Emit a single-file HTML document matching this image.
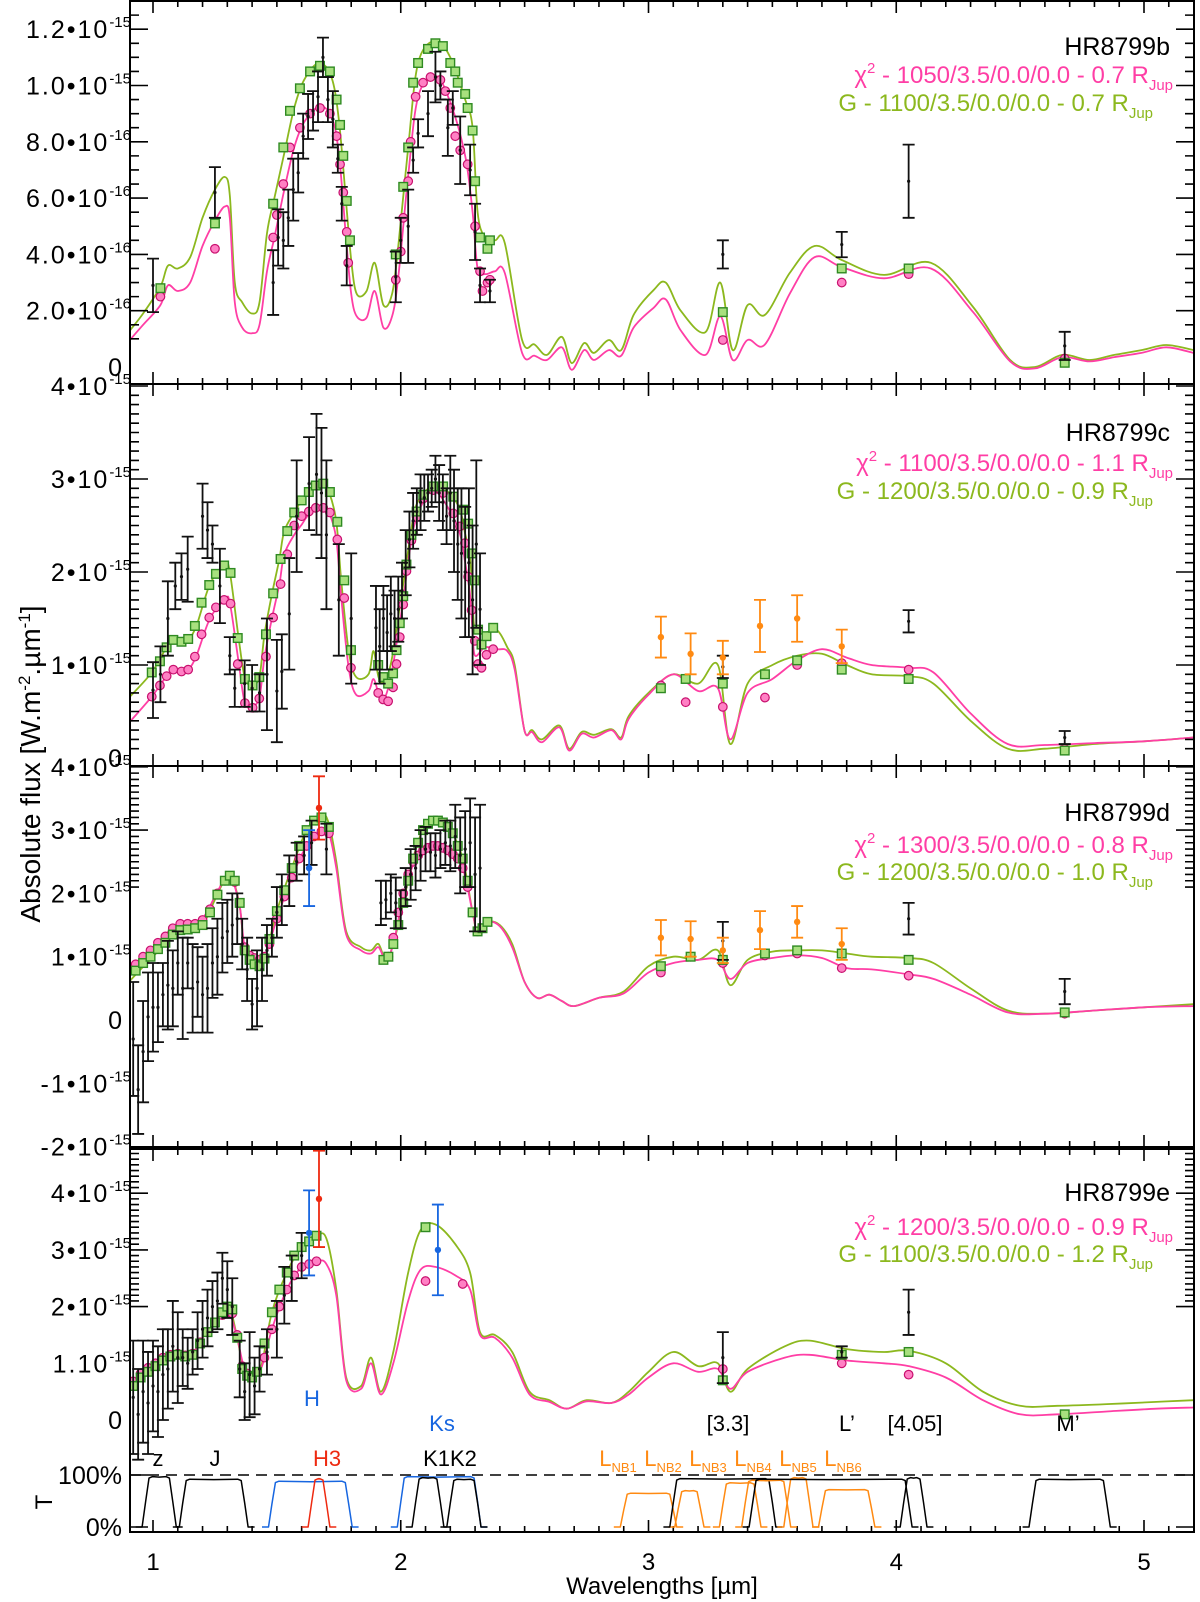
<!DOCTYPE html>
<html><head><meta charset="utf-8"><title>HR8799 spectra</title>
<style>
html,body{margin:0;padding:0;background:#fff}
svg{display:block;font-family:"Liberation Sans",Arial,sans-serif}
</style></head>
<body>
<svg id="chart" xmlns="http://www.w3.org/2000/svg" width="1200" height="1602" viewBox="0 0 1200 1602">
<rect x="0" y="0" width="1200" height="1602" fill="#fff"/>
<defs id="defs"></defs>
<g id="layer"></g>
<text transform="translate(40,764) rotate(-90)" text-anchor="middle" font-size="28">Absolute flux [W.m<tspan dy="-10" font-size="17">-2</tspan><tspan dy="10">.µm</tspan><tspan dy="-10" font-size="17">-1</tspan><tspan dy="10">]</tspan></text>
<text transform="translate(52,1502) rotate(-90)" text-anchor="middle" font-size="24">T</text>
<text x="662" y="1594" text-anchor="middle" font-size="24">Wavelengths [µm]</text>
</svg>
<script>
// ---------------- DATA ----------------
// Panel 1 (HR8799b), units 1e-16
const p1Lam=[0.907,0.96,1.03,1.06,1.1,1.15,1.2,1.25,1.29,1.31,1.33,1.36,1.4,1.43,1.46,1.49,1.53,1.57,1.61,1.67,1.72,1.75,1.78,1.80,1.822,1.862,1.895,1.93,1.965,1.99,2.03,2.07,2.14,2.2,2.26,2.29,2.31,2.34,2.38,2.42,2.49,2.54,2.59,2.65,2.69,2.74,2.78,2.84,2.89,2.94,3.02,3.07,3.13,3.23,3.29,3.34,3.4,3.47,3.57,3.67,3.78,3.95,4.14,4.31,4.46,4.56,4.67,4.78,4.88,4.99,5.09,5.2];
const p1Green=[1.3,1.9,2.85,3.6,3.5,3.9,5.3,6.3,6.75,6.1,3.0,2.3,1.9,2.3,4.75,6.0,7.6,9.2,10.2,10.8,10.3,8.8,5.8,3.8,2.6,2.7,3.7,2.2,2.6,4.3,7.8,10.8,11.6,11.0,9.5,8.5,5.5,4.6,4.5,4.4,0.96,0.8,0.43,1.07,0.14,0.85,0.5,0.96,0.6,1.85,2.73,3.0,2.0,1.24,3.0,0.6,2.2,1.85,3.34,4.3,3.8,3.27,3.7,2.13,0.25,0.0,0.43,0.25,0.43,0.6,0.78,0.6];
const p1Pink=[0.96,1.5,2.2,2.9,2.7,3.0,4.3,5.2,5.7,5.3,2.3,1.4,1.2,1.5,3.4,4.6,6.3,7.8,8.7,9.25,8.9,7.6,4.5,2.6,1.8,1.75,2.7,1.4,1.8,3.2,6.8,9.6,10.35,9.4,7.5,5.5,3.5,3.3,3.4,3.34,0.5,0.4,0.25,0.7,-0.1,0.6,0.25,0.6,0.4,1.4,2.1,2.4,1.3,0.43,1.8,0.25,0.96,0.8,2.6,3.9,3.55,3.15,3.5,1.95,0.2,-0.05,0.35,0.2,0.35,0.5,0.7,0.5];
const p1SqLam=[1.03,1.25,1.485,1.526,1.553,1.593,1.634,1.674,1.714,1.741,1.755,1.768,1.782,1.795,1.98,2.01,2.03,2.05,2.07,2.11,2.14,2.17,2.20,2.22,2.23,2.26,2.27,2.29,2.30,2.32,2.35,2.36,3.3,3.78,4.05,4.68];
const p1SqVal=[2.8,5.1,5.8,7.8,9.1,9.9,10.5,10.7,10.5,9.5,8.6,7.5,5.9,4.5,4.0,6.4,7.8,10.1,10.8,11.3,11.5,11.4,10.8,10.5,10.1,9.7,9.2,8.4,6.6,4.6,4.2,4.5,1.95,3.5,3.5,0.15];
const p1CiLam=[1.03,1.25,1.485,1.5,1.526,1.553,1.593,1.634,1.674,1.714,1.741,1.755,1.768,1.782,1.788,1.98,2.00,2.01,2.03,2.04,2.06,2.09,2.12,2.16,2.18,2.20,2.22,2.24,2.27,2.30,2.32,2.33,2.35,2.36,3.3,3.78,4.05,4.68];
const p1CiVal=[2.5,4.2,4.6,5.4,6.5,7.8,8.5,9.0,9.2,9.0,8.2,7.2,6.2,4.8,3.7,3.1,4.1,5.3,6.6,8.0,9.6,10.1,10.3,10.2,9.8,9.2,8.2,7.7,7.2,5.0,3.4,2.7,3.0,3.1,0.96,3.0,3.3,0.3];
const p1ErrLam=[1.0,1.25,1.485,1.505,1.526,1.546,1.566,1.586,1.606,1.626,1.646,1.666,1.686,1.706,1.726,1.746,1.762,1.782,1.98,2.0,2.03,2.05,2.07,2.11,2.14,2.16,2.19,2.21,2.24,2.28,2.30,2.32,2.36,3.3,3.78,4.05,4.68];
const p1ErrVal=[2.9,6.2,3.0,4.6,4.5,5.3,6.3,6.9,8.2,8.9,9.1,9.6,11.0,9.5,8.8,7.4,5.8,3.6,3.2,4.5,5.0,7.35,8.3,9.0,10.3,10.0,8.5,9.2,7.7,7.0,4.8,2.9,2.7,4.0,4.35,6.6,0.75];
const p1ErrSig=[0.95,0.9,1.15,1.0,1.0,1.0,1.1,0.7,0.8,0.8,0.7,0.9,0.7,0.8,1.0,0.5,0.6,0.7,0.9,0.8,1.3,0.45,0.5,0.8,0.9,0.5,1.0,0.6,1.2,0.9,1.0,0.6,0.4,0.5,0.45,1.3,0.5];

// Panel 2 (HR8799c), units 1e-15
const p2Lam=[0.907,0.995,1.055,1.09,1.14,1.175,1.23,1.29,1.31,1.345,1.37,1.4,1.43,1.45,1.48,1.51,1.53,1.57,1.6,1.63,1.68,1.71,1.74,1.76,1.79,1.82,1.87,1.89,1.91,1.93,1.96,1.99,2.01,2.04,2.06,2.1,2.14,2.2,2.24,2.26,2.28,2.29,2.3,2.34,2.39,2.43,2.46,2.5,2.53,2.57,2.64,2.68,2.73,2.78,2.85,2.89,2.92,3.0,3.1,3.2,3.28,3.33,3.4,3.5,3.6,3.7,3.8,3.9,4.05,4.15,4.3,4.45,4.6,4.8,5.0,5.2];
const p2Green=[0.66,0.92,1.19,1.28,1.28,1.42,1.87,2.08,2.0,1.3,0.87,0.78,0.88,1.33,1.76,2.14,2.44,2.64,2.77,2.87,2.95,2.86,2.54,1.9,1.15,0.87,0.9,1.15,0.87,0.82,1.01,1.52,1.87,2.41,2.7,2.87,2.92,2.84,2.66,2.41,2.16,1.69,1.37,1.35,1.37,1.19,1.0,0.29,0.3,0.2,0.35,0.1,0.28,0.25,0.31,0.22,0.45,0.7,0.9,0.8,1.0,0.15,0.8,1.0,1.1,1.12,1.0,0.9,0.88,0.8,0.4,0.1,0.1,0.15,0.18,0.22];
const p2Pink=[0.39,0.66,0.88,0.95,0.95,1.1,1.5,1.7,1.67,1.04,0.6,0.55,0.66,1.08,1.5,1.87,2.19,2.4,2.51,2.62,2.69,2.64,2.35,1.72,0.97,0.68,0.72,0.85,0.7,0.62,0.87,1.35,1.7,2.3,2.55,2.8,2.87,2.65,2.4,2.1,1.75,1.35,1.1,1.19,1.17,1.15,0.95,0.29,0.28,0.17,0.33,0.08,0.26,0.22,0.3,0.2,0.42,0.68,0.9,0.72,0.75,0.2,0.7,0.85,1.05,1.17,1.08,1.0,0.97,0.92,0.48,0.15,0.14,0.16,0.18,0.22];
const p2SqLam=[0.995,1.028,1.055,1.082,1.115,1.142,1.169,1.196,1.227,1.254,1.287,1.313,1.342,1.371,1.402,1.429,1.456,1.485,1.515,1.542,1.570,1.600,1.629,1.657,1.687,1.714,1.744,1.772,1.799,1.909,1.929,1.949,1.969,1.983,1.996,2.010,2.023,2.043,2.064,2.091,2.131,2.171,2.212,2.252,2.272,2.286,2.299,2.312,2.326,2.346,2.373,3.05,3.15,3.3,3.47,3.6,3.78,4.05,4.68];
const p2SqVal=[0.92,1.04,1.19,1.27,1.25,1.28,1.42,1.67,1.86,1.98,2.07,1.99,1.29,0.85,0.78,0.87,1.33,1.77,2.14,2.44,2.64,2.77,2.86,2.93,2.95,2.86,2.54,1.91,1.16,1.0,0.87,0.8,0.91,1.16,1.45,1.74,2.08,2.4,2.65,2.83,2.92,2.92,2.81,2.67,2.52,2.2,1.91,1.38,1.22,1.31,1.4,0.75,0.85,0.8,0.9,1.05,0.95,0.85,0.08];
const p2CiLam=[0.995,1.028,1.055,1.082,1.115,1.142,1.169,1.196,1.227,1.254,1.287,1.313,1.342,1.371,1.402,1.429,1.456,1.485,1.515,1.542,1.570,1.600,1.629,1.657,1.687,1.714,1.744,1.772,1.799,1.909,1.929,1.949,1.969,1.983,1.996,2.010,2.023,2.043,2.064,2.091,2.131,2.171,2.212,2.239,2.259,2.272,2.286,2.299,2.312,2.326,2.346,2.373,3.05,3.15,3.3,3.47,3.6,3.78,4.05,4.68];
const p2CiVal=[0.66,0.78,0.88,0.95,0.93,0.95,1.09,1.33,1.51,1.62,1.7,1.66,1.01,0.59,0.54,0.64,1.09,1.51,1.87,2.19,2.5,2.6,2.65,2.69,2.69,2.64,2.35,1.72,0.97,0.7,0.63,0.61,0.76,1.01,1.3,1.65,2.01,2.34,2.59,2.79,2.88,2.85,2.63,2.49,2.31,1.95,1.59,1.26,1.01,0.97,1.11,1.17,0.78,0.6,0.55,0.65,1.0,1.02,0.95,0.1];
const p2ErrLam=[1.0,1.03,1.06,1.09,1.115,1.14,1.2,1.22,1.24,1.27,1.31,1.33,1.37,1.4,1.43,1.46,1.5,1.52,1.55,1.58,1.63,1.66,1.68,1.70,1.75,1.80,1.90,1.915,1.93,1.945,1.96,1.975,1.99,2.005,2.02,2.035,2.05,2.065,2.08,2.095,2.11,2.125,2.14,2.155,2.17,2.185,2.2,2.215,2.23,2.245,2.26,2.275,2.29,2.305,2.32,3.3,4.05,4.68];
const p2ErrVal=[0.73,0.9,1.5,1.85,1.95,2.03,2.6,2.45,2.3,1.85,1.1,0.75,0.8,0.75,0.7,0.9,0.72,0.93,1.55,2.6,2.95,3.05,2.85,2.4,1.7,1.5,1.4,1.2,1.5,1.35,1.55,1.5,1.6,1.8,2.1,2.35,2.55,2.65,2.75,2.8,2.85,2.9,3.0,2.85,2.75,2.6,2.85,2.55,2.3,2.2,2.0,2.1,1.7,2.3,1.6,0.98,1.47,0.22];
const p2ErrSig=[0.3,0.3,0.4,0.25,0.25,0.35,0.35,0.3,0.2,0.4,0.2,0.2,0.25,0.25,0.2,0.6,0.55,0.4,0.6,0.6,0.5,0.65,0.7,0.8,0.6,0.7,0.45,0.4,0.35,0.4,0.4,0.3,0.35,0.3,0.35,0.3,0.3,0.25,0.3,0.25,0.2,0.2,0.25,0.3,0.3,0.3,0.4,0.55,0.6,0.7,0.7,0.8,0.8,0.9,0.6,0.12,0.12,0.07];
const p2OrLam=[3.05,3.17,3.3,3.45,3.6,3.78];
const p2OrVal=[1.3,1.12,1.08,1.42,1.5,1.2];
const p2OrSig=[0.22,0.22,0.18,0.28,0.25,0.18];

// Panel 3 (HR8799d), units 1e-15
const p3Lam=[0.907,0.95,1.0,1.05,1.1,1.15,1.2,1.25,1.3,1.32,1.35,1.37,1.4,1.43,1.46,1.5,1.56,1.62,1.68,1.71,1.74,1.78,1.84,1.88,1.91,1.94,1.97,2.01,2.05,2.09,2.14,2.2,2.25,2.29,2.31,2.35,2.4,2.45,2.5,2.55,2.6,2.65,2.7,2.8,2.9,3.0,3.1,3.2,3.28,3.33,3.4,3.5,3.6,3.7,3.8,3.9,4.05,4.15,4.3,4.45,4.6,4.8,5.0,5.2];
const p3Green=[0.62,0.8,1.0,1.22,1.42,1.43,1.5,1.9,2.3,2.25,1.8,1.1,0.88,0.85,1.1,1.72,2.4,3.0,3.25,3.1,2.5,1.4,1.15,1.1,1.2,0.95,1.2,1.85,2.55,3.0,3.17,3.0,2.55,1.7,1.4,1.55,1.5,1.2,0.6,0.35,0.4,0.3,0.22,0.35,0.45,0.85,1.0,0.95,1.1,0.55,0.95,1.08,1.1,1.1,1.05,1.0,0.98,0.9,0.5,0.15,0.1,0.15,0.2,0.25];
const p3Pink=[0.8,0.95,1.12,1.35,1.52,1.5,1.6,1.95,2.3,2.22,1.8,1.15,1.0,0.95,1.1,1.6,2.25,2.75,2.98,2.95,2.4,1.35,1.1,1.05,1.15,0.95,1.2,1.95,2.45,2.68,2.76,2.65,2.4,1.7,1.4,1.55,1.48,1.15,0.6,0.35,0.4,0.3,0.22,0.35,0.42,0.75,0.9,0.95,0.95,0.65,0.9,0.98,1.02,0.98,0.82,0.8,0.72,0.65,0.4,0.12,0.1,0.15,0.2,0.22];
const p3SqLam=[0.93,0.96,0.99,1.02,1.05,1.08,1.11,1.14,1.17,1.2,1.23,1.26,1.29,1.31,1.33,1.35,1.37,1.39,1.41,1.43,1.45,1.47,1.5,1.53,1.56,1.59,1.62,1.65,1.68,1.71,1.93,1.95,1.97,1.99,2.01,2.03,2.05,2.07,2.09,2.11,2.13,2.15,2.17,2.19,2.21,2.23,2.25,2.27,2.29,2.31,2.33,2.35,3.05,3.17,3.3,3.47,3.6,3.78,4.05,4.68];
const p3SqVal=[0.78,0.9,1.0,1.12,1.22,1.35,1.42,1.43,1.45,1.5,1.7,1.98,2.2,2.28,2.2,1.85,1.1,0.95,0.88,0.85,0.97,1.28,1.72,2.05,2.4,2.75,3.0,3.15,3.2,3.05,0.95,1.0,1.2,1.5,1.85,2.2,2.55,2.8,3.0,3.1,3.15,3.15,3.12,3.05,2.95,2.75,2.55,2.2,1.7,1.4,1.45,1.55,0.85,1.0,0.95,1.05,1.1,1.05,0.95,0.12];
const p3CiLam=[0.93,0.96,0.99,1.02,1.05,1.08,1.11,1.14,1.17,1.2,1.23,1.26,1.29,1.31,1.33,1.35,1.37,1.39,1.41,1.43,1.45,1.47,1.5,1.53,1.56,1.59,1.62,1.65,1.68,1.71,1.95,1.97,1.99,2.01,2.03,2.05,2.07,2.09,2.11,2.13,2.15,2.17,2.19,2.21,2.23,2.25,2.27,2.29,2.31,3.05,3.17,3.3,3.47,3.6,3.78,4.05,4.68];
const p3CiVal=[0.88,1.0,1.1,1.22,1.32,1.45,1.52,1.52,1.52,1.58,1.75,2.0,2.2,2.25,2.18,1.85,1.15,1.02,0.98,0.95,1.0,1.2,1.6,1.95,2.25,2.55,2.75,2.9,2.98,2.95,1.0,1.3,1.7,2.0,2.3,2.5,2.6,2.68,2.72,2.75,2.75,2.72,2.68,2.62,2.55,2.4,2.1,1.7,1.4,0.75,1.0,0.9,1.02,1.05,0.82,0.7,0.1];
const p3ErrLam=[0.92,0.94,0.96,0.98,1.0,1.02,1.04,1.06,1.08,1.1,1.12,1.14,1.16,1.18,1.2,1.22,1.24,1.26,1.28,1.3,1.32,1.34,1.36,1.38,1.4,1.42,1.44,1.46,1.48,1.5,1.52,1.55,1.58,1.61,1.64,1.70,1.92,1.94,1.96,1.98,2.0,2.02,2.04,2.06,2.08,2.1,2.12,2.14,2.16,2.18,2.2,2.22,2.24,2.26,2.28,2.3,2.32,3.3,4.05,4.68];
const p3ErrVal=[-0.3,-1.1,-0.5,0.05,0.2,0.2,0.4,0.55,0.5,0.9,0.5,0.9,0.5,0.6,0.4,0.5,0.9,1.0,1.3,1.4,1.5,1.6,1.2,0.8,0.25,0.5,0.8,1.1,1.3,1.7,1.9,2.2,2.5,2.6,2.8,2.7,1.85,1.9,2.0,1.85,1.75,2.1,2.3,2.4,2.6,2.7,2.65,2.6,2.7,2.8,2.75,2.9,2.6,2.7,2.8,2.3,2.4,1.25,1.6,0.45];
const p3ErrSig=[0.9,0.7,0.8,0.7,0.7,0.55,0.5,0.7,0.6,0.5,0.8,0.4,0.7,0.55,0.6,0.7,0.55,0.6,0.55,0.5,0.5,0.4,0.4,0.5,0.4,0.6,0.5,0.4,0.3,0.4,0.4,0.4,0.3,0.3,0.35,0.4,0.35,0.3,0.3,0.4,0.3,0.3,0.4,0.35,0.4,0.35,0.3,0.35,0.3,0.35,0.4,0.5,0.6,0.6,0.7,0.9,1.0,0.3,0.25,0.2];
const p3OrLam=[3.05,3.17,3.3,3.45,3.6,3.78];
const p3OrVal=[1.3,1.28,1.1,1.42,1.55,1.2];
const p3OrSig=[0.28,0.28,0.2,0.3,0.25,0.25];
const p3BlueLam=[1.63];const p3BlueVal=[2.4];const p3BlueSig=[0.6];
const p3RedLam=[1.67];const p3RedVal=[3.35];const p3RedSig=[0.5];

// Panel 4 (HR8799e), units 1e-15
const p4Lam=[0.907,0.95,1.0,1.05,1.1,1.15,1.2,1.25,1.29,1.31,1.34,1.37,1.41,1.44,1.48,1.54,1.6,1.66,1.7,1.74,1.78,1.84,1.88,1.92,1.97,2.03,2.08,2.14,2.22,2.28,2.32,2.38,2.45,2.52,2.6,2.67,2.75,2.85,2.92,3.0,3.1,3.2,3.28,3.33,3.4,3.55,3.65,3.8,3.95,4.05,4.2,4.35,4.5,4.65,4.85,5.05,5.2];
const p4Green=[0.6,0.75,0.92,1.08,1.15,1.12,1.45,1.72,1.98,2.0,1.45,0.85,0.75,1.0,1.9,2.6,3.05,3.25,3.2,2.3,0.75,0.6,1.1,0.5,1.2,2.6,3.35,3.45,3.1,2.6,1.55,1.5,1.2,0.5,0.35,0.2,0.35,0.3,0.5,0.85,1.2,0.95,1.0,0.5,0.9,1.3,1.4,1.25,1.2,1.22,1.0,0.5,0.25,0.25,0.28,0.32,0.35];
const p4Pink=[0.65,0.8,0.95,1.1,1.15,1.12,1.45,1.72,1.9,1.88,1.45,0.9,0.8,0.95,1.6,2.3,2.7,2.8,2.75,2.2,0.7,0.55,1.0,0.45,1.0,2.1,2.65,2.7,2.55,2.3,1.5,1.45,1.1,0.45,0.32,0.2,0.33,0.3,0.45,0.75,1.0,0.85,0.9,0.55,0.85,1.1,1.15,1.05,1.0,0.95,0.75,0.35,0.1,0.1,0.15,0.2,0.22];
const p4SqLam=[0.92,0.95,0.98,1.01,1.04,1.07,1.10,1.13,1.16,1.19,1.22,1.25,1.28,1.30,1.32,1.34,1.36,1.38,1.40,1.42,1.45,1.48,1.51,1.54,1.57,1.6,1.63,1.66,2.1,3.3,3.78,4.05,4.68];
const p4SqVal=[0.6,0.75,0.85,0.95,1.05,1.12,1.15,1.12,1.15,1.35,1.55,1.72,1.9,2.0,1.95,1.45,0.9,0.78,0.75,0.85,1.35,1.9,2.3,2.6,2.9,3.05,3.15,3.25,3.4,0.7,1.15,1.2,0.1];
const p4CiLam=[0.92,0.95,0.98,1.01,1.04,1.07,1.10,1.13,1.16,1.19,1.22,1.25,1.28,1.30,1.32,1.34,1.36,1.38,1.40,1.42,1.45,1.48,1.51,1.54,1.57,1.6,1.63,1.66,2.1,2.25,3.3,3.78,4.05];
const p4CiVal=[0.68,0.82,0.92,1.0,1.1,1.15,1.17,1.14,1.17,1.37,1.55,1.72,1.85,1.9,1.88,1.5,0.95,0.82,0.78,0.85,1.1,1.6,2.0,2.3,2.55,2.7,2.75,2.8,2.45,2.4,0.9,1.0,0.8];
const p4ErrLam=[0.92,0.94,0.96,0.98,1.0,1.02,1.04,1.06,1.08,1.1,1.12,1.14,1.16,1.18,1.2,1.22,1.24,1.26,1.28,1.3,1.32,1.35,1.37,1.39,1.41,1.43,1.46,1.5,1.53,1.56,1.6,3.3,3.78,4.05];
const p4ErrVal=[0.4,0.1,0.5,0.3,0.6,0.5,0.8,0.9,1.3,1.1,1.1,1.0,1.2,1.4,1.6,1.8,2.0,2.1,2.5,2.3,2.0,0.9,0.5,0.8,0.6,0.9,1.2,1.6,2.2,2.5,2.9,1.1,1.2,1.9];
const p4ErrSig=[1.0,0.8,0.9,0.9,0.8,0.8,0.8,0.7,0.8,0.8,0.5,0.45,0.4,0.5,0.5,0.5,0.45,0.5,0.45,0.5,0.5,0.5,0.5,0.75,0.5,0.4,0.4,0.5,0.5,0.4,0.4,0.45,0.1,0.4];
const p4BlueLam=[1.63,2.15];const p4BlueVal=[3.3,3.0];const p4BlueSig=[0.75,0.8];
const p4RedLam=[1.67];const p4RedVal=[3.9];const p4RedSig=[0.85];

// Filter transmission curves (µm, %)
const fLo=[0.97,1.12,1.48,1.64,2.00,2.06,2.20,2.90,3.12,3.10,3.30,3.39,3.56,3.70,3.42,4.03,4.55];
const fHi=[1.08,1.37,1.79,1.70,2.31,2.16,2.31,3.10,3.21,3.50,3.44,3.56,3.65,3.90,4.05,4.11,4.85];
const fPeak=[97,92,88,93,97,95,92,65,70,93,85,90,95,72,92,95,92];
const fKind=["k","k","b","r","b","k","k","o","o","k","o","o","o","o","k","k","k"];

// ---------------- DRAWING ----------------
const NS="http://www.w3.org/2000/svg";
const layer=document.getElementById('layer');
const defs=document.getElementById('defs');
const XL=130,XR=1194;
function X(l){return 153+(l-1)*247.75;}
function mk(tag,attrs,parent){const e=document.createElementNS(NS,tag);for(const k in attrs)e.setAttribute(k,attrs[k]);(parent||layer).appendChild(e);return e;}
const GREEN="#8cb81e",PINK="#ff3ea5",ORANGE="#ff8a12",BLUE="#1766e0",RED="#ee2a10";
function smooth(pts){let d='M'+pts[0][0].toFixed(1)+','+pts[0][1].toFixed(1);
 for(let i=0;i<pts.length-1;i++){const p0=pts[i-1]||pts[i],p1=pts[i],p2=pts[i+1],p3=pts[i+2]||p2;
  const c1x=p1[0]+(p2[0]-p0[0])/6,c1y=p1[1]+(p2[1]-p0[1])/6,c2x=p2[0]-(p3[0]-p1[0])/6,c2y=p2[1]-(p3[1]-p1[1])/6;
  d+=' C'+c1x.toFixed(1)+','+c1y.toFixed(1)+' '+c2x.toFixed(1)+','+c2y.toFixed(1)+' '+p2[0].toFixed(1)+','+p2[1].toFixed(1);}
 return d;}

const panels=[
 {id:1,top:1,bot:384,y0:367,u:28.15,minStep:0.5,majVals:[0,2,4,6,8,10,12],majMant:["0","2.0•10","4.0•10","6.0•10","8.0•10","1.0•10","1.2•10"],majExp:["","-16","-16","-16","-16","-15","-15"],lam:p1Lam,g:p1Green,p:p1Pink,sqL:p1SqLam,sqV:p1SqVal,ciL:p1CiLam,ciV:p1CiVal,eL:p1ErrLam,eV:p1ErrVal,eS:p1ErrSig,name:"HR8799b",pinkTxt:"1050/3.5/0.0/0.0 - 0.7 R",greenTxt:"1100/3.5/0.0/0.0 - 0.7 R",ly:[46,75,103],pinkEnd:1173,greenEnd:1153},
 {id:2,top:384,bot:766,y0:758,u:93,minStep:0.1,majVals:[0,1,2,3,4],majMant:["0","1•10","2•10","3•10","4•10"],majExp:["","-15","-15","-15","-15"],lam:p2Lam,g:p2Green,p:p2Pink,sqL:p2SqLam,sqV:p2SqVal,ciL:p2CiLam,ciV:p2CiVal,eL:p2ErrLam,eV:p2ErrVal,eS:p2ErrSig,oL:p2OrLam,oV:p2OrVal,oS:p2OrSig,name:"HR8799c",pinkTxt:"1100/3.5/0.0/0.0 - 1.1 R",greenTxt:"1200/3.5/0.0/0.0 - 0.9 R",ly:[432,463,491],pinkEnd:1173,greenEnd:1153},
 {id:3,top:766,bot:1147,y0:1020,u:63.3,minStep:0.1,majVals:[-2,-1,0,1,2,3,4],majMant:["-2•10","-1•10","0","1•10","2•10","3•10","4•10"],majExp:["-15","-15","","-15","-15","-15","-15"],lam:p3Lam,g:p3Green,p:p3Pink,sqL:p3SqLam,sqV:p3SqVal,ciL:p3CiLam,ciV:p3CiVal,eL:p3ErrLam,eV:p3ErrVal,eS:p3ErrSig,oL:p3OrLam,oV:p3OrVal,oS:p3OrSig,bL:p3BlueLam,bV:p3BlueVal,bS:p3BlueSig,rL:p3RedLam,rV:p3RedVal,rS:p3RedSig,name:"HR8799d",pinkTxt:"1300/3.5/0.0/0.0 - 0.8 R",greenTxt:"1200/3.5/0.0/0.0 - 1.0 R",ly:[812,845,872],pinkEnd:1173,greenEnd:1153},
 {id:4,top:1149,bot:1532,y0:1420,u:56.7,minStep:0.1,majVals:[0,1,2,3,4],majMant:["0","1.10","2•10","3•10","4•10"],majExp:["","-15","-15","-15","-15"],lam:p4Lam,g:p4Green,p:p4Pink,sqL:p4SqLam,sqV:p4SqVal,ciL:p4CiLam,ciV:p4CiVal,eL:p4ErrLam,eV:p4ErrVal,eS:p4ErrSig,bL:p4BlueLam,bV:p4BlueVal,bS:p4BlueSig,rL:p4RedLam,rV:p4RedVal,rS:p4RedSig,name:"HR8799e",pinkTxt:"1200/3.5/0.0/0.0 - 0.9 R",greenTxt:"1100/3.5/0.0/0.0 - 1.2 R",ly:[1192,1227,1254],pinkEnd:1173,greenEnd:1153}
];

function errbar(g,x,v,s,P,color,dot){
 const Y=t=>P.y0-t*P.u;const y1=Y(v+s),y2=Y(v-s),cx=X(x);
 const e=mk('path',{d:`M${cx},${y1}V${y2}M${cx-6},${y1}H${cx+6}M${cx-6},${y2}H${cx+6}`,stroke:color,'stroke-width':1.8,fill:'none'},g);
 
 
 const c=mk('circle',{cx:cx,cy:Y(v),r:dot,fill:color},g);
 
 
}

panels.forEach(P=>{
 const Y=v=>P.y0-v*P.u;
 const g=mk('g',{});
 
 
 const cp=mk('clipPath',{id:'clip'+P.id},defs);
 mk('rect',{x:XL,y:P.top,width:XR-XL,height:P.bot-P.top},cp);
 const plot=mk('g',{'clip-path':'url(#clip'+P.id+')'},g);
 const gp=mk('path',{d:smooth(P.lam.map((l,i)=>[X(l),Y(P.g[i])])),stroke:GREEN,'stroke-width':1.8,fill:'none'},plot);
 
 
 const pp=mk('path',{d:smooth(P.lam.map((l,i)=>[X(l),Y(P.p[i])])),stroke:PINK,'stroke-width':1.8,fill:'none'},plot);
 
 
 P.ciL.forEach((l,i)=>{const c=mk('circle',{cx:X(l),cy:Y(P.ciV[i]),r:4.3,fill:'#ff80c4',stroke:'#c8106e','stroke-width':1.2},plot);
  
  });
 P.sqL.forEach((l,i)=>{const r=mk('rect',{x:X(l)-4.3,y:Y(P.sqV[i])-4.3,width:8.6,height:8.6,fill:'#a8e07e',stroke:'#2f8a22','stroke-width':1.4},plot);
  
  });
 P.eL.forEach((l,i)=>errbar(plot,l,P.eV[i],P.eS[i],P,'#111',1.6));
 if(P.oL)P.oL.forEach((l,i)=>errbar(plot,l,P.oV[i],P.oS[i],P,ORANGE,3.2));
 if(P.bL)P.bL.forEach((l,i)=>errbar(plot,l,P.bV[i],P.bS[i],P,BLUE,3.2));
 if(P.rL)P.rL.forEach((l,i)=>errbar(plot,l,P.rV[i],P.rS[i],P,RED,3.2));
 const fr=mk('rect',{x:XL,y:P.top,width:XR-XL,height:P.bot-P.top,fill:'none',stroke:'#000','stroke-width':2},g);
 
 
 let d='';
 for(let k=9;k<=52;k++){const l=k/10;const x=X(l);if(x<XL+1||x>XR-1)continue;const L=(k%10===0)?12:6;
  d+=`M${x},${P.top}v${L}M${x},${P.bot}v${-L}`;}
 const vmin=(P.y0-P.bot)/P.u*-1,vmax=(P.y0-P.top)/P.u;
 const n0=Math.ceil(vmin/P.minStep-1e-6),n1=Math.floor(vmax/P.minStep+1e-6);
 for(let n=n0;n<=n1;n++){const v=n*P.minStep;const y=Y(v);const isMaj=P.majVals.some(m=>Math.abs(m-v)<1e-6);const L=isMaj?18:9;
  d+=`M${XL},${y}h${L}M${XR},${y}h${-L}`;}
 const tk=mk('path',{d:d,stroke:'#000','stroke-width':1.6,fill:'none'},g);
 
 
 P.majVals.forEach((v,i)=>{const t=mk('text',{x:P.majExp[i]?131:122,y:Y(v)+9,'text-anchor':'end','font-size':25},g);
  
  
  const m=mk('tspan',{'letter-spacing':P.majExp[i]?'2':'0'},t);m.textContent=P.majMant[i];
  if(P.majExp[i]){const s=mk('tspan',{dy:-11,'font-size':15},t);s.textContent=P.majExp[i];}
 });
 const t1=mk('text',{x:1170,y:P.ly[0]+9,'text-anchor':'end','font-size':25,fill:'#000'},g);
 
 
 t1.textContent=P.name;
 const t2=mk('text',{x:P.pinkEnd,y:P.ly[1]+8,'text-anchor':'end','font-size':24,fill:PINK},g);
 
 
 t2.innerHTML='χ<tspan dy="-10" font-size="15">2</tspan><tspan dy="10"> - '+P.pinkTxt+'</tspan><tspan dy="7" font-size="15">Jup</tspan>';
 const t3=mk('text',{x:P.greenEnd,y:P.ly[2]+8,'text-anchor':'end','font-size':24,fill:GREEN},g);
 
 
 t3.innerHTML='G - '+P.greenTxt+'<tspan dy="7" font-size="15">Jup</tspan>';
});

(function(){
 const T0=1527,T100=1475;const TY=p=>T0-(T0-T100)*p/100;
 const g=mk('g',{});
 
 
 const cols={k:'#000',b:BLUE,r:RED,o:ORANGE};
 fLo.forEach((lo,i)=>{const hi=fHi[i],pk=fPeak[i],w=0.014;
  const pts=[[lo-0.04,0],[lo-w,0],[lo,pk*0.5],[lo+w,pk*0.97],[lo+2*w,pk],[(lo+hi)/2,pk*0.99],[hi-2*w,pk],[hi-w,pk*0.97],[hi,pk*0.5],[hi+w,0],[hi+0.04,0]];
  const d='M'+pts.map(p=>X(p[0]).toFixed(1)+','+TY(p[1]).toFixed(1)).join('L');
  const e=mk('path',{d:d,stroke:cols[fKind[i]],'stroke-width':1.5,fill:'none','stroke-linejoin':'round'},g);
  
  
 });
 const dl=mk('line',{x1:XL,x2:XR,y1:T100,y2:T100,stroke:'#000','stroke-width':1.6,'stroke-dasharray':'11,7'},g);
 
 
 const l1=mk('text',{x:122,y:T100+9,'text-anchor':'end','font-size':25},g);
 
 
 l1.textContent='100%';
 const l0=mk('text',{x:122,y:T0+9,'text-anchor':'end','font-size':25},g);
 
 
 l0.textContent='0%';
 const tk=mk('path',{d:`M${XL},${T100}h18M${XL},${T0}h18M${XR},${T100}h-18M${XR},${T0}h-18`,stroke:'#000','stroke-width':1.6},g);
 
 
})();

const xTicks=[1,2,3,4,5];
xTicks.forEach(v=>{const t=mk('text',{x:X(v),y:1570,'text-anchor':'middle','font-size':24});
 
 
 t.textContent=String(v);});

function lab(txt,x,y,color,name,sub){const t=mk('text',{x:x,y:y,'text-anchor':'middle','font-size':22,fill:color});
 
 
 if(sub){t.innerHTML=txt+'<tspan dy="6" font-size="13">'+sub+'</tspan>';}else t.textContent=txt;}
lab('H',312,1406,BLUE,'band-label-h');
lab('Ks',442,1431,BLUE,'band-label-ks');
lab('[3.3]',728,1431,'#000','band-label-3-3');
lab('L’',847,1431,'#000','band-label-lprime');
lab('[4.05]',915,1431,'#000','band-label-4-05');
lab('M’',1068,1431,'#000','band-label-mprime');
lab('z',158,1466,'#000','band-label-z');
lab('J',215,1466,'#000','band-label-j');
lab('H3',327,1466,RED,'band-label-h3');
lab('K1K2',450,1466,'#000','band-label-k1k2');
['NB1','NB2','NB3','NB4','NB5','NB6'].forEach((s,i)=>lab('L',618+i*45,1466,ORANGE,'band-label-l'+s.toLowerCase(),s));
</script>
</body></html>
